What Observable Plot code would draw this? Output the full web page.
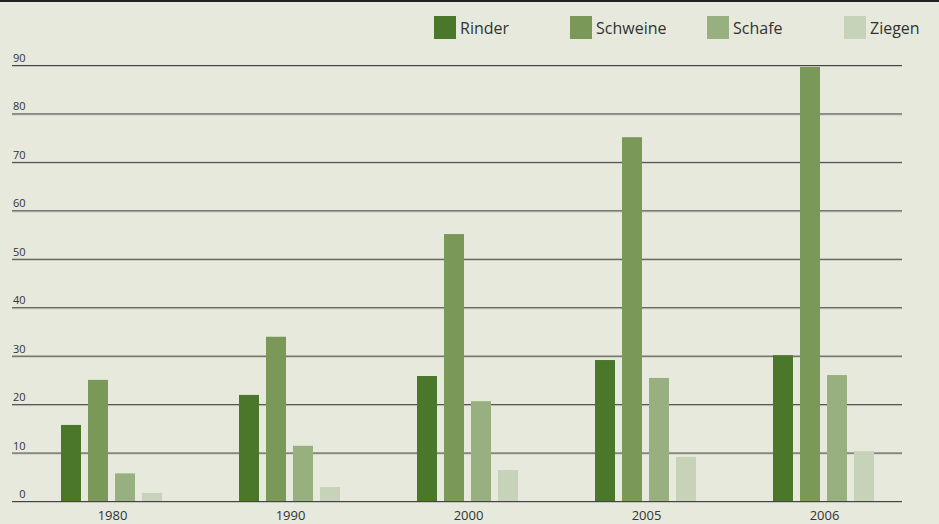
<!DOCTYPE html>
<html><head><meta charset="utf-8">
<script src="https://cdn.jsdelivr.net/npm/d3@7"></script>
<script src="https://cdn.jsdelivr.net/npm/@observablehq/plot@0.6"></script>
<style>
html,body{margin:0;padding:0;background:#e6e9dc;}
#wrap{position:relative;width:939px;height:524px;overflow:hidden;background:#e6e9dc;}
#topline{position:absolute;left:0;top:0;width:939px;height:2px;background:#222;}
#legend{position:absolute;top:16px;left:0;width:939px;height:24px;font-family:"Open Sans",sans-serif;font-size:16px;color:#333;}
.item{position:absolute;top:0;display:flex;align-items:center;height:23px;}
.sw{width:22px;height:23px;margin-right:4px;}
</style></head>
<body><div id="wrap"><div id="topline"></div><div id="legend"></div><div id="chart"></div></div>
<script>
const years = ["1980", "1990", "2000", "2005", "2006"];
const animals = ["Rinder", "Schweine", "Schafe", "Ziegen"];
const rinder   = [15.7, 21.9, 25.8, 29.1, 30.1];
const schweine = [25.0, 33.9, 55.1, 75.1, 89.6];
const schafe   = [5.7, 11.4, 20.6, 25.4, 26.0];
const ziegen   = [1.65, 2.9, 6.4, 9.1, 10.3];
const colors = ["#4a7729", "#7a9858", "#98b07f", "#c6d3b8"];
const yTicks = [0, 10, 20, 30, 40, 50, 60, 70, 80, 90];

const series = [rinder, schweine, schafe, ziegen];
const data = [];
years.forEach((y, i) => animals.forEach((a, j) => data.push({year: y, animal: a, value: series[j][i]})));

const legendX = [434, 570, 707, 844];
const leg = document.getElementById("legend");
animals.forEach((a, j) => {
  const d = document.createElement("div");
  d.className = "item";
  d.style.left = legendX[j] + "px";
  d.innerHTML = `<div class="sw" style="background:${colors[j]}"></div><span>${a}</span>`;
  leg.appendChild(d);
});

const chart = Plot.plot({
  width: 939,
  height: 524,
  marginTop: 65,
  marginBottom: 23,
  marginLeft: 11,
  marginRight: 36,
  style: {background: "transparent", fontFamily: "'Open Sans', sans-serif", color: "#333"},
  fx: {domain: years, padding: 0, label: null},
  x: {domain: animals, paddingInner: 0.26, paddingOuter: 1.4, align: 0.632, axis: null},
  y: {domain: [0, 90], axis: null},
  color: {domain: animals, range: colors},
  marks: [
    Plot.ruleY(yTicks, {stroke: "#c4c6bb", strokeWidth: 1, dy: 1}),
    Plot.ruleY(yTicks, {stroke: "#444", strokeWidth: 1}),
    Plot.barY(data, {fx: "year", x: "animal", y: "value", fill: "animal"}),
    Plot.axisFx({anchor: "bottom", tickSize: 0, tickPadding: 9, fontSize: 13, dx: 11, fill: "#333", label: null}),
    Plot.axisY(yTicks, {anchor: "left", tickSize: 0, tickPadding: -13, dy: -7, fontSize: 11, fill: "#333", label: null})
  ]
});
document.getElementById("chart").appendChild(chart);
</script></body></html>
